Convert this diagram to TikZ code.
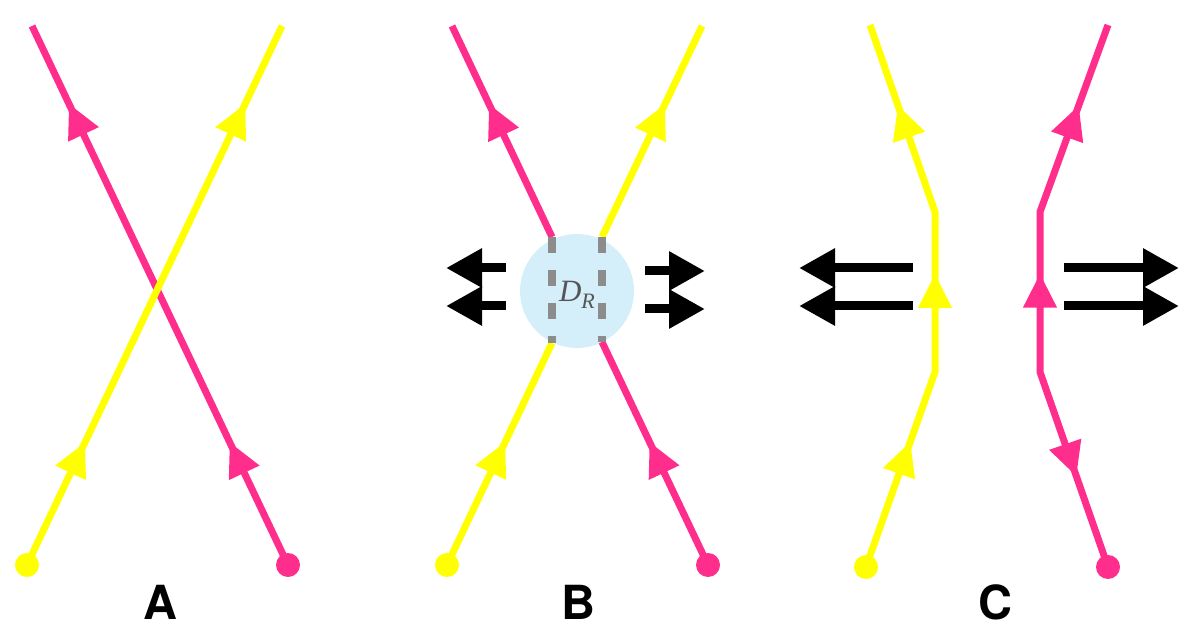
\documentclass[tikz,border=0pt]{standalone}
\usepackage{fontspec}
\setsansfont{TeX Gyre Heros}
\newfontfamily\diskfont{Liberation Serif}
\usetikzlibrary{arrows.meta,decorations.markings}
\definecolor{strandpink}{HTML}{FF2D8C}
\definecolor{strandyellow}{HTML}{FFFF00}
\definecolor{diskblue}{HTML}{D4EEFA}
\definecolor{cutgray}{HTML}{8C8C8C}
\definecolor{disktext}{HTML}{555555}
\tikzset{
  strand/.style       = {line width=7pt},
  pinkstrand/.style   = {strand, draw=strandpink},
  yellowstrand/.style = {strand, draw=strandyellow},
  flowat/.style       = {postaction={decorate,decoration={markings,
      mark=at position #1 with {\arrow{Triangle[length=34pt,width=32pt]}}}}},
  flowback/.style     = {postaction={decorate,decoration={markings,
      mark=at position #1 with {\arrowreversed{Triangle[length=34pt,width=32pt]}}}}},
  enddot/.style       = {circle, inner sep=0pt, minimum size=24pt},
  push/.style         = {line width=9pt, -{Triangle[length=36pt,width=37pt]}},
  cut/.style          = {line width=8pt, draw=cutgray, dash pattern=on 16pt off 17pt},
  panel/.style        = {font=\fontsize{47}{47}\selectfont\sffamily\bfseries}
}

\begin{document}
\begin{tikzpicture}[x=1pt,y=-1pt]
  \useasboundingbox (0,0) rectangle (1200,636);

  % panel A: the strands cross
  \node[enddot, fill=strandyellow] (yAd) at (27,565) {};
  \node[enddot, fill=strandpink]   (pAd) at (288,565) {};
  \coordinate (pAt) at (32,26);
  \coordinate (yAt) at (282,26);
  \draw[pinkstrand, flowat=0.228, flowat=0.856]   (pAd.center) -- (pAt);
  \draw[yellowstrand, flowat=0.228, flowat=0.856] (yAd.center) -- (yAt);
  \node[panel] (labA) at (160,602) {A};

  % panel B: the crossing is cut out of the disk
  \node[circle, fill=diskblue, inner sep=0pt, minimum size=114pt] (disk) at (577,291) {};
  \node[text=disktext, font=\fontsize{31}{31}\selectfont\diskfont\itshape]
    (dr) at (577,295) {D\raisebox{-0.22em}{\fontsize{22}{22}\selectfont R}};
  \node[enddot, fill=strandyellow] (yBd) at (447,565) {};
  \node[enddot, fill=strandpink]   (pBd) at (708,565) {};
  \coordinate (pBt) at (452,26);
  \coordinate (pBc) at (552,237);
  \coordinate (yBc) at (552,343);
  \coordinate (yBt) at (702,26);
  \coordinate (yBe) at (602,237);
  \coordinate (pBe) at (602,342);
  \draw[pinkstrand, flowat=0.63]   (pBc) -- (pBt);
  \draw[yellowstrand, flowat=0.555] (yBd.center) -- (yBc);
  \draw[yellowstrand, flowat=0.63] (yBe) -- (yBt);
  \draw[pinkstrand, flowat=0.552]   (pBd.center) -- (pBe);
  \draw[cut] (pBc) -- (yBc);
  \draw[cut] (yBe) -- (pBe);
  % pushes on both sides of the disk
  \foreach \n/\y in {1/268,2/306}{
    \coordinate (bl\n s) at (506,\y);
    \coordinate (bl\n e) at (446,\y);
    \coordinate (br\n s) at (645,\y+3);
    \coordinate (br\n e) at (705,\y+3);
    \draw[push] (bl\n s) -- (bl\n e);
    \draw[push] (br\n s) -- (br\n e);
  }
  \node[panel] (labB) at (578,602) {B};

  % panel C: the strands are pulled apart
  \node[enddot, fill=strandyellow] (yCd) at (866,567) {};
  \node[enddot, fill=strandpink]   (pCd) at (1108,567) {};
  \coordinate (yCl) at (935,372);
  \coordinate (yCu) at (935,212);
  \coordinate (yCt) at (870,25);
  \coordinate (pCl) at (1040,372);
  \coordinate (pCu) at (1040,212);
  \coordinate (pCt) at (1108,25);
  \draw[yellowstrand, flowat=133pt, flowat=305pt, flowat=480pt]
    (yCd.center) -- (yCl) -- (yCu) -- (yCt);
  \draw[pinkstrand, flowback=96pt, flowat=305pt, flowat=480pt]
    (pCd.center) -- (pCl) -- (pCu) -- (pCt);
  \foreach \n/\y in {1/268,2/306}{
    \coordinate (cl\n s) at (913,\y);
    \coordinate (cl\n e) at (799,\y);
    \coordinate (cr\n s) at (1064,\y);
    \coordinate (cr\n e) at (1179,\y);
    \draw[push] (cl\n s) -- (cl\n e);
    \draw[push] (cr\n s) -- (cr\n e);
  }
  \node[panel] (labC) at (995,602) {C};
\end{tikzpicture}
\end{document}
